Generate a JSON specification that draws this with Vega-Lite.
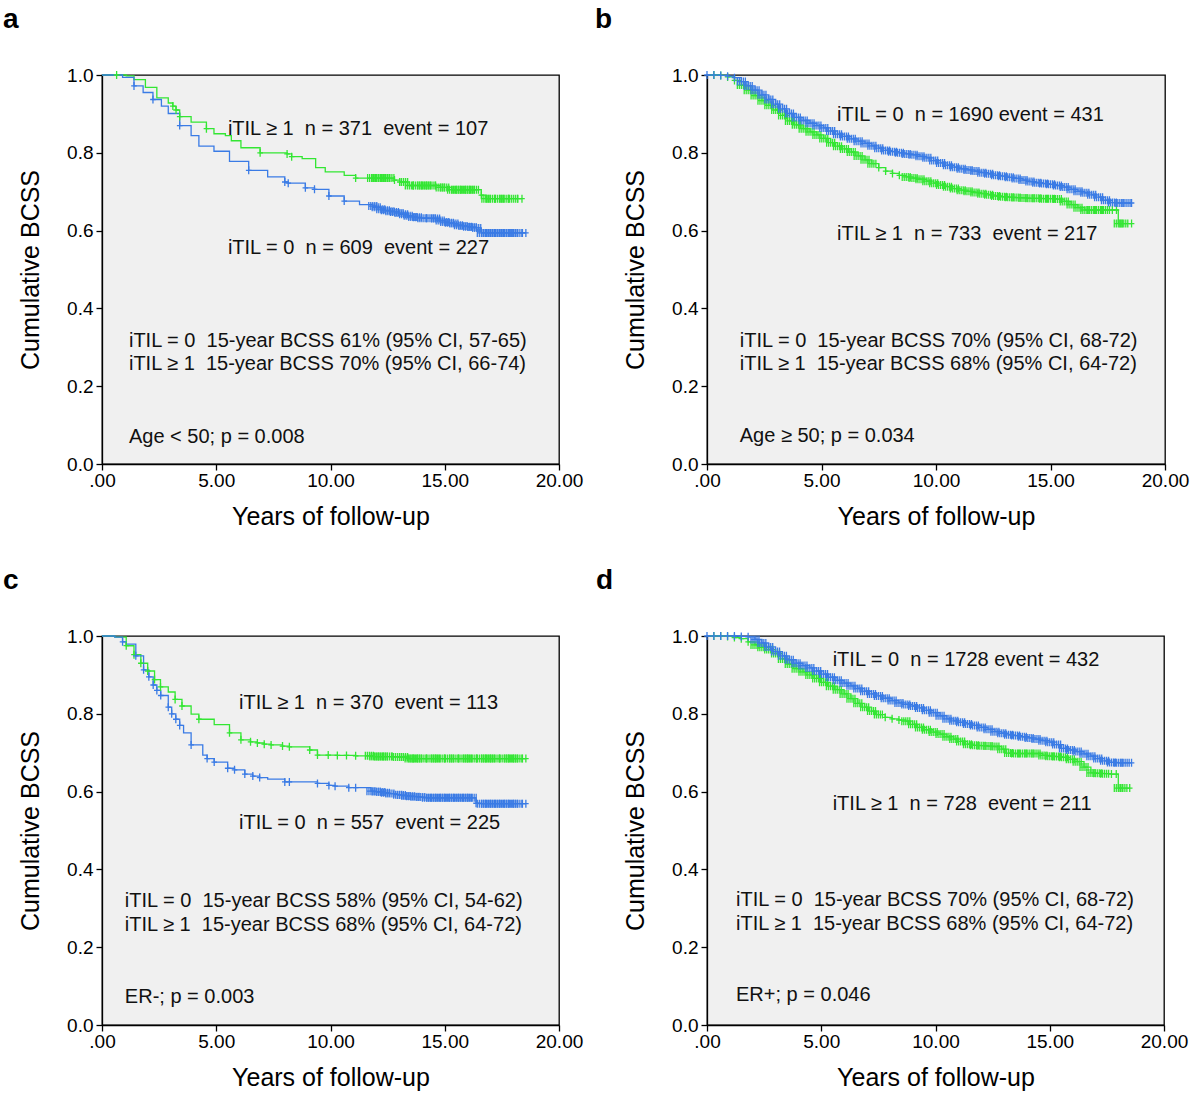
{
"$schema":"https://vega.github.io/schema/vega-lite/v6.json",
"background":"white",
"padding":{"left":2,"top":5,"right":0,"bottom":0},
"columns":2,
"spacing":{"row":36,"column":10},
"datasets":{
"a":[
{"g":1,"t":0,"s":1,"c":0},{"g":1,"t":0.64,"s":1,"c":1},{"g":1,"t":1.06,"s":0.998,"c":0},{"g":1,"t":1.4,"s":0.988,"c":0},{"g":1,"t":1.9,"s":0.968,"c":0},{"g":1,"t":2.4,"s":0.941,"c":0},{"g":1,"t":2.9,"s":0.928,"c":0},{"g":1,"t":3.1,"s":0.92,"c":1},{"g":1,"t":3.24,"s":0.91,"c":1},{"g":1,"t":3.4,"s":0.893,"c":1},{"g":1,"t":3.9,"s":0.879,"c":0},{"g":1,"t":4.57,"s":0.862,"c":1},{"g":1,"t":4.9,"s":0.849,"c":0},{"g":1,"t":5.4,"s":0.844,"c":0},{"g":1,"t":5.66,"s":0.831,"c":0},{"g":1,"t":6.08,"s":0.813,"c":0},{"g":1,"t":6.92,"s":0.8,"c":1},{"g":1,"t":8.1,"s":0.797,"c":1},{"g":1,"t":8.3,"s":0.79,"c":1},{"g":1,"t":8.76,"s":0.785,"c":0},{"g":1,"t":9.35,"s":0.762,"c":0},{"g":1,"t":9.77,"s":0.751,"c":0},{"g":1,"t":10.6,"s":0.742,"c":0},{"g":1,"t":11.1,"s":0.735,"c":1},{"g":1,"t":11.8,"s":0.735,"c":2},{"g":1,"t":12.0,"s":0.735,"c":2},{"g":1,"t":12.2,"s":0.735,"c":2},{"g":1,"t":12.4,"s":0.735,"c":2},{"g":1,"t":12.6,"s":0.735,"c":2},{"g":1,"t":12.8,"s":0.73,"c":1},{"g":1,"t":13.03,"s":0.725,"c":1},{"g":1,"t":13.2,"s":0.725,"c":2},{"g":1,"t":13.45,"s":0.716,"c":2},{"g":1,"t":13.6,"s":0.716,"c":1},{"g":1,"t":13.8,"s":0.716,"c":2},{"g":1,"t":14.0,"s":0.716,"c":2},{"g":1,"t":14.2,"s":0.716,"c":2},{"g":1,"t":14.4,"s":0.716,"c":2},{"g":1,"t":14.6,"s":0.716,"c":1},{"g":1,"t":14.8,"s":0.711,"c":2},{"g":1,"t":15.0,"s":0.711,"c":2},{"g":1,"t":15.3,"s":0.705,"c":2},{"g":1,"t":15.5,"s":0.705,"c":2},{"g":1,"t":15.7,"s":0.705,"c":2},{"g":1,"t":15.9,"s":0.705,"c":2},{"g":1,"t":16.1,"s":0.705,"c":2},{"g":1,"t":16.3,"s":0.705,"c":2},{"g":1,"t":16.6,"s":0.691,"c":1},{"g":1,"t":16.8,"s":0.682,"c":2},{"g":1,"t":17.0,"s":0.682,"c":2},{"g":1,"t":17.2,"s":0.682,"c":1},{"g":1,"t":17.4,"s":0.682,"c":2},{"g":1,"t":17.6,"s":0.682,"c":2},{"g":1,"t":17.8,"s":0.682,"c":1},{"g":1,"t":18.0,"s":0.682,"c":2},{"g":1,"t":18.2,"s":0.682,"c":1},{"g":1,"t":18.38,"s":0.682,"c":1},
{"g":0,"t":0,"s":1,"c":0},{"g":0,"t":0.9,"s":0.994,"c":0},{"g":0,"t":1.4,"s":0.972,"c":1},{"g":0,"t":1.8,"s":0.955,"c":0},{"g":0,"t":2.23,"s":0.937,"c":1},{"g":0,"t":2.6,"s":0.92,"c":0},{"g":0,"t":2.9,"s":0.901,"c":0},{"g":0,"t":3.4,"s":0.87,"c":1},{"g":0,"t":3.9,"s":0.844,"c":0},{"g":0,"t":4.24,"s":0.817,"c":0},{"g":0,"t":4.9,"s":0.804,"c":0},{"g":0,"t":5.58,"s":0.778,"c":0},{"g":0,"t":6.42,"s":0.755,"c":1},{"g":0,"t":7.25,"s":0.738,"c":0},{"g":0,"t":8.0,"s":0.725,"c":1},{"g":0,"t":8.15,"s":0.722,"c":1},{"g":0,"t":8.9,"s":0.71,"c":1},{"g":0,"t":9.3,"s":0.706,"c":1},{"g":0,"t":9.93,"s":0.689,"c":1},{"g":0,"t":10.6,"s":0.676,"c":1},{"g":0,"t":11.27,"s":0.667,"c":0},{"g":0,"t":11.85,"s":0.663,"c":2},{"g":0,"t":12.0,"s":0.66,"c":2},{"g":0,"t":12.2,"s":0.655,"c":2},{"g":0,"t":12.4,"s":0.652,"c":2},{"g":0,"t":12.6,"s":0.65,"c":2},{"g":0,"t":12.8,"s":0.648,"c":2},{"g":0,"t":13.0,"s":0.645,"c":2},{"g":0,"t":13.2,"s":0.642,"c":2},{"g":0,"t":13.4,"s":0.638,"c":2},{"g":0,"t":13.6,"s":0.635,"c":2},{"g":0,"t":13.8,"s":0.634,"c":2},{"g":0,"t":14.0,"s":0.632,"c":2},{"g":0,"t":14.2,"s":0.632,"c":1},{"g":0,"t":14.4,"s":0.632,"c":2},{"g":0,"t":14.6,"s":0.631,"c":2},{"g":0,"t":14.8,"s":0.626,"c":2},{"g":0,"t":15.0,"s":0.622,"c":2},{"g":0,"t":15.2,"s":0.62,"c":2},{"g":0,"t":15.4,"s":0.618,"c":2},{"g":0,"t":15.6,"s":0.614,"c":2},{"g":0,"t":15.8,"s":0.612,"c":2},{"g":0,"t":16.0,"s":0.61,"c":2},{"g":0,"t":16.2,"s":0.609,"c":2},{"g":0,"t":16.4,"s":0.607,"c":2},{"g":0,"t":16.6,"s":0.594,"c":2},{"g":0,"t":16.8,"s":0.594,"c":2},{"g":0,"t":17.0,"s":0.594,"c":2},{"g":0,"t":17.2,"s":0.594,"c":2},{"g":0,"t":17.4,"s":0.594,"c":2},{"g":0,"t":17.6,"s":0.594,"c":2},{"g":0,"t":17.8,"s":0.594,"c":2},{"g":0,"t":18.0,"s":0.594,"c":2},{"g":0,"t":18.2,"s":0.594,"c":2},{"g":0,"t":18.4,"s":0.594,"c":1},{"g":0,"t":18.55,"s":0.594,"c":1}
],
"b":[
{"g":1,"t":0,"s":1,"c":0},{"g":1,"t":0.3,"s":1,"c":1},{"g":1,"t":0.6,"s":0.999,"c":1},{"g":1,"t":0.9,"s":0.995,"c":1},{"g":1,"t":1.2,"s":0.986,"c":1},{"g":1,"t":1.5,"s":0.974,"c":2},{"g":1,"t":1.8,"s":0.961,"c":2},{"g":1,"t":2.1,"s":0.947,"c":2},{"g":1,"t":2.4,"s":0.934,"c":2},{"g":1,"t":2.7,"s":0.922,"c":2},{"g":1,"t":3.0,"s":0.91,"c":2},{"g":1,"t":3.3,"s":0.896,"c":2},{"g":1,"t":3.6,"s":0.882,"c":2},{"g":1,"t":3.9,"s":0.872,"c":2},{"g":1,"t":4.2,"s":0.862,"c":2},{"g":1,"t":4.5,"s":0.854,"c":2},{"g":1,"t":4.8,"s":0.846,"c":2},{"g":1,"t":5.1,"s":0.837,"c":2},{"g":1,"t":5.4,"s":0.826,"c":2},{"g":1,"t":5.7,"s":0.817,"c":2},{"g":1,"t":6.0,"s":0.81,"c":2},{"g":1,"t":6.3,"s":0.802,"c":2},{"g":1,"t":6.6,"s":0.792,"c":2},{"g":1,"t":6.9,"s":0.782,"c":2},{"g":1,"t":7.2,"s":0.772,"c":2},{"g":1,"t":7.5,"s":0.762,"c":1},{"g":1,"t":7.8,"s":0.753,"c":1},{"g":1,"t":8.1,"s":0.747,"c":1},{"g":1,"t":8.4,"s":0.742,"c":1},{"g":1,"t":8.7,"s":0.738,"c":2},{"g":1,"t":9.0,"s":0.735,"c":2},{"g":1,"t":9.3,"s":0.732,"c":2},{"g":1,"t":9.6,"s":0.727,"c":2},{"g":1,"t":9.9,"s":0.722,"c":2},{"g":1,"t":10.2,"s":0.717,"c":2},{"g":1,"t":10.5,"s":0.713,"c":2},{"g":1,"t":10.8,"s":0.708,"c":2},{"g":1,"t":11.1,"s":0.704,"c":2},{"g":1,"t":11.4,"s":0.701,"c":2},{"g":1,"t":11.7,"s":0.698,"c":2},{"g":1,"t":12.0,"s":0.695,"c":2},{"g":1,"t":12.3,"s":0.692,"c":2},{"g":1,"t":12.6,"s":0.689,"c":2},{"g":1,"t":12.9,"s":0.687,"c":2},{"g":1,"t":13.2,"s":0.686,"c":2},{"g":1,"t":13.5,"s":0.685,"c":2},{"g":1,"t":13.8,"s":0.684,"c":2},{"g":1,"t":14.1,"s":0.683,"c":2},{"g":1,"t":14.4,"s":0.683,"c":2},{"g":1,"t":14.7,"s":0.682,"c":2},{"g":1,"t":15.0,"s":0.682,"c":2},{"g":1,"t":15.3,"s":0.681,"c":2},{"g":1,"t":15.6,"s":0.675,"c":2},{"g":1,"t":15.9,"s":0.667,"c":2},{"g":1,"t":16.2,"s":0.659,"c":2},{"g":1,"t":16.5,"s":0.653,"c":2},{"g":1,"t":16.8,"s":0.653,"c":2},{"g":1,"t":17.1,"s":0.653,"c":2},{"g":1,"t":17.4,"s":0.653,"c":2},{"g":1,"t":17.7,"s":0.653,"c":1},{"g":1,"t":17.88,"s":0.653,"c":1},{"g":1,"t":17.96,"s":0.618,"c":2},{"g":1,"t":18.2,"s":0.618,"c":2},{"g":1,"t":18.54,"s":0.618,"c":1},
{"g":0,"t":0,"s":1,"c":1},{"g":0,"t":0.3,"s":1,"c":1},{"g":0,"t":0.6,"s":0.999,"c":1},{"g":0,"t":0.9,"s":0.997,"c":1},{"g":0,"t":1.2,"s":0.993,"c":1},{"g":0,"t":1.5,"s":0.983,"c":2},{"g":0,"t":1.8,"s":0.972,"c":2},{"g":0,"t":2.1,"s":0.961,"c":2},{"g":0,"t":2.4,"s":0.949,"c":2},{"g":0,"t":2.7,"s":0.937,"c":2},{"g":0,"t":3.0,"s":0.925,"c":2},{"g":0,"t":3.3,"s":0.913,"c":2},{"g":0,"t":3.6,"s":0.901,"c":2},{"g":0,"t":3.9,"s":0.891,"c":2},{"g":0,"t":4.2,"s":0.883,"c":2},{"g":0,"t":4.5,"s":0.876,"c":2},{"g":0,"t":4.8,"s":0.87,"c":2},{"g":0,"t":5.1,"s":0.864,"c":2},{"g":0,"t":5.4,"s":0.856,"c":2},{"g":0,"t":5.7,"s":0.848,"c":2},{"g":0,"t":6.0,"s":0.842,"c":2},{"g":0,"t":6.3,"s":0.836,"c":2},{"g":0,"t":6.6,"s":0.83,"c":2},{"g":0,"t":6.9,"s":0.824,"c":2},{"g":0,"t":7.2,"s":0.818,"c":2},{"g":0,"t":7.5,"s":0.812,"c":2},{"g":0,"t":7.8,"s":0.806,"c":2},{"g":0,"t":8.1,"s":0.803,"c":2},{"g":0,"t":8.4,"s":0.8,"c":2},{"g":0,"t":8.7,"s":0.797,"c":2},{"g":0,"t":9.0,"s":0.795,"c":2},{"g":0,"t":9.3,"s":0.791,"c":2},{"g":0,"t":9.6,"s":0.787,"c":2},{"g":0,"t":9.9,"s":0.78,"c":2},{"g":0,"t":10.2,"s":0.774,"c":2},{"g":0,"t":10.5,"s":0.768,"c":2},{"g":0,"t":10.8,"s":0.763,"c":2},{"g":0,"t":11.1,"s":0.759,"c":2},{"g":0,"t":11.4,"s":0.756,"c":2},{"g":0,"t":11.7,"s":0.753,"c":2},{"g":0,"t":12.0,"s":0.749,"c":2},{"g":0,"t":12.3,"s":0.746,"c":2},{"g":0,"t":12.6,"s":0.742,"c":2},{"g":0,"t":12.9,"s":0.74,"c":2},{"g":0,"t":13.2,"s":0.737,"c":2},{"g":0,"t":13.5,"s":0.734,"c":2},{"g":0,"t":13.8,"s":0.73,"c":2},{"g":0,"t":14.1,"s":0.726,"c":2},{"g":0,"t":14.4,"s":0.723,"c":2},{"g":0,"t":14.7,"s":0.721,"c":2},{"g":0,"t":15.0,"s":0.719,"c":2},{"g":0,"t":15.3,"s":0.716,"c":2},{"g":0,"t":15.6,"s":0.712,"c":2},{"g":0,"t":15.9,"s":0.706,"c":2},{"g":0,"t":16.2,"s":0.701,"c":2},{"g":0,"t":16.5,"s":0.697,"c":2},{"g":0,"t":16.8,"s":0.692,"c":2},{"g":0,"t":17.1,"s":0.686,"c":2},{"g":0,"t":17.4,"s":0.678,"c":2},{"g":0,"t":17.7,"s":0.672,"c":2},{"g":0,"t":18.0,"s":0.671,"c":2},{"g":0,"t":18.3,"s":0.671,"c":2},{"g":0,"t":18.54,"s":0.671,"c":1}
],
"c":[
{"g":1,"t":0,"s":1,"c":0},{"g":1,"t":0.56,"s":0.997,"c":0},{"g":1,"t":1.06,"s":0.975,"c":1},{"g":1,"t":1.4,"s":0.952,"c":1},{"g":1,"t":1.7,"s":0.93,"c":1},{"g":1,"t":2.0,"s":0.91,"c":1},{"g":1,"t":2.3,"s":0.888,"c":1},{"g":1,"t":2.56,"s":0.869,"c":1},{"g":1,"t":2.9,"s":0.856,"c":0},{"g":1,"t":3.2,"s":0.837,"c":1},{"g":1,"t":3.5,"s":0.82,"c":1},{"g":1,"t":3.9,"s":0.799,"c":0},{"g":1,"t":4.24,"s":0.786,"c":1},{"g":1,"t":4.91,"s":0.772,"c":0},{"g":1,"t":5.58,"s":0.751,"c":1},{"g":1,"t":6.08,"s":0.733,"c":1},{"g":1,"t":6.5,"s":0.728,"c":1},{"g":1,"t":6.8,"s":0.725,"c":1},{"g":1,"t":7.1,"s":0.722,"c":1},{"g":1,"t":7.4,"s":0.72,"c":1},{"g":1,"t":7.9,"s":0.717,"c":1},{"g":1,"t":8.2,"s":0.715,"c":1},{"g":1,"t":9.09,"s":0.707,"c":1},{"g":1,"t":9.43,"s":0.694,"c":1},{"g":1,"t":9.9,"s":0.694,"c":1},{"g":1,"t":10.3,"s":0.693,"c":1},{"g":1,"t":10.7,"s":0.693,"c":1},{"g":1,"t":11.1,"s":0.692,"c":1},{"g":1,"t":11.7,"s":0.692,"c":2},{"g":1,"t":11.9,"s":0.69,"c":2},{"g":1,"t":12.1,"s":0.69,"c":2},{"g":1,"t":12.3,"s":0.69,"c":2},{"g":1,"t":12.5,"s":0.69,"c":2},{"g":1,"t":12.7,"s":0.69,"c":1},{"g":1,"t":12.94,"s":0.689,"c":2},{"g":1,"t":13.2,"s":0.689,"c":2},{"g":1,"t":13.44,"s":0.685,"c":2},{"g":1,"t":13.6,"s":0.685,"c":2},{"g":1,"t":13.8,"s":0.685,"c":2},{"g":1,"t":14.0,"s":0.685,"c":2},{"g":1,"t":14.2,"s":0.685,"c":1},{"g":1,"t":14.4,"s":0.685,"c":2},{"g":1,"t":14.6,"s":0.685,"c":2},{"g":1,"t":14.8,"s":0.685,"c":2},{"g":1,"t":15.0,"s":0.685,"c":1},{"g":1,"t":15.2,"s":0.685,"c":2},{"g":1,"t":15.4,"s":0.685,"c":2},{"g":1,"t":15.6,"s":0.685,"c":1},{"g":1,"t":15.8,"s":0.685,"c":2},{"g":1,"t":16.0,"s":0.685,"c":2},{"g":1,"t":16.2,"s":0.685,"c":2},{"g":1,"t":16.4,"s":0.685,"c":1},{"g":1,"t":16.6,"s":0.685,"c":2},{"g":1,"t":16.8,"s":0.685,"c":2},{"g":1,"t":17.0,"s":0.685,"c":2},{"g":1,"t":17.2,"s":0.685,"c":2},{"g":1,"t":17.4,"s":0.685,"c":1},{"g":1,"t":17.6,"s":0.685,"c":2},{"g":1,"t":17.8,"s":0.685,"c":2},{"g":1,"t":18.0,"s":0.685,"c":2},{"g":1,"t":18.2,"s":0.685,"c":2},{"g":1,"t":18.4,"s":0.685,"c":1},{"g":1,"t":18.55,"s":0.685,"c":1},
{"g":0,"t":0,"s":1,"c":0},{"g":0,"t":0.56,"s":0.997,"c":0},{"g":0,"t":0.9,"s":0.985,"c":1},{"g":0,"t":1.06,"s":0.979,"c":0},{"g":0,"t":1.48,"s":0.949,"c":1},{"g":0,"t":1.82,"s":0.913,"c":1},{"g":0,"t":2.05,"s":0.895,"c":1},{"g":0,"t":2.24,"s":0.874,"c":1},{"g":0,"t":2.4,"s":0.86,"c":1},{"g":0,"t":2.57,"s":0.847,"c":1},{"g":0,"t":2.9,"s":0.817,"c":1},{"g":0,"t":3.05,"s":0.8,"c":1},{"g":0,"t":3.23,"s":0.786,"c":1},{"g":0,"t":3.4,"s":0.77,"c":1},{"g":0,"t":3.57,"s":0.751,"c":0},{"g":0,"t":3.9,"s":0.72,"c":1},{"g":0,"t":4.41,"s":0.694,"c":0},{"g":0,"t":4.6,"s":0.685,"c":1},{"g":0,"t":4.91,"s":0.676,"c":1},{"g":0,"t":5.5,"s":0.66,"c":1},{"g":0,"t":5.8,"s":0.656,"c":1},{"g":0,"t":6.25,"s":0.645,"c":1},{"g":0,"t":6.6,"s":0.64,"c":1},{"g":0,"t":6.9,"s":0.636,"c":1},{"g":0,"t":7.25,"s":0.632,"c":0},{"g":0,"t":8.0,"s":0.625,"c":1},{"g":0,"t":8.2,"s":0.625,"c":1},{"g":0,"t":9.43,"s":0.621,"c":1},{"g":0,"t":9.93,"s":0.616,"c":1},{"g":0,"t":10.2,"s":0.614,"c":1},{"g":0,"t":10.8,"s":0.61,"c":1},{"g":0,"t":11.1,"s":0.61,"c":1},{"g":0,"t":11.77,"s":0.601,"c":2},{"g":0,"t":12.0,"s":0.6,"c":2},{"g":0,"t":12.2,"s":0.599,"c":2},{"g":0,"t":12.4,"s":0.597,"c":2},{"g":0,"t":12.6,"s":0.595,"c":2},{"g":0,"t":12.94,"s":0.592,"c":2},{"g":0,"t":13.1,"s":0.591,"c":2},{"g":0,"t":13.3,"s":0.589,"c":2},{"g":0,"t":13.5,"s":0.588,"c":2},{"g":0,"t":13.7,"s":0.587,"c":2},{"g":0,"t":13.95,"s":0.586,"c":2},{"g":0,"t":14.2,"s":0.584,"c":2},{"g":0,"t":14.4,"s":0.584,"c":2},{"g":0,"t":14.6,"s":0.584,"c":2},{"g":0,"t":14.8,"s":0.584,"c":2},{"g":0,"t":15.0,"s":0.584,"c":2},{"g":0,"t":15.2,"s":0.584,"c":2},{"g":0,"t":15.4,"s":0.584,"c":2},{"g":0,"t":15.6,"s":0.584,"c":2},{"g":0,"t":15.8,"s":0.584,"c":2},{"g":0,"t":16.0,"s":0.584,"c":2},{"g":0,"t":16.2,"s":0.584,"c":2},{"g":0,"t":16.37,"s":0.57,"c":1},{"g":0,"t":16.6,"s":0.569,"c":2},{"g":0,"t":16.8,"s":0.569,"c":2},{"g":0,"t":17.0,"s":0.569,"c":2},{"g":0,"t":17.2,"s":0.569,"c":2},{"g":0,"t":17.4,"s":0.569,"c":2},{"g":0,"t":17.6,"s":0.569,"c":2},{"g":0,"t":17.8,"s":0.569,"c":2},{"g":0,"t":18.0,"s":0.569,"c":2},{"g":0,"t":18.2,"s":0.569,"c":2},{"g":0,"t":18.4,"s":0.569,"c":1},{"g":0,"t":18.55,"s":0.569,"c":1}
],
"d":[
{"g":1,"t":0,"s":1,"c":0},{"g":1,"t":0.3,"s":1,"c":1},{"g":1,"t":0.6,"s":1,"c":1},{"g":1,"t":0.9,"s":0.999,"c":1},{"g":1,"t":1.2,"s":0.996,"c":1},{"g":1,"t":1.5,"s":0.993,"c":1},{"g":1,"t":1.8,"s":0.985,"c":1},{"g":1,"t":2.1,"s":0.977,"c":2},{"g":1,"t":2.4,"s":0.971,"c":2},{"g":1,"t":2.7,"s":0.965,"c":2},{"g":1,"t":3.0,"s":0.955,"c":2},{"g":1,"t":3.3,"s":0.941,"c":2},{"g":1,"t":3.6,"s":0.928,"c":2},{"g":1,"t":3.9,"s":0.916,"c":2},{"g":1,"t":4.2,"s":0.908,"c":2},{"g":1,"t":4.5,"s":0.9,"c":2},{"g":1,"t":4.8,"s":0.891,"c":2},{"g":1,"t":5.1,"s":0.881,"c":2},{"g":1,"t":5.4,"s":0.871,"c":2},{"g":1,"t":5.7,"s":0.862,"c":2},{"g":1,"t":6.0,"s":0.851,"c":2},{"g":1,"t":6.3,"s":0.839,"c":2},{"g":1,"t":6.6,"s":0.827,"c":2},{"g":1,"t":6.9,"s":0.817,"c":2},{"g":1,"t":7.2,"s":0.807,"c":2},{"g":1,"t":7.5,"s":0.798,"c":2},{"g":1,"t":7.8,"s":0.791,"c":1},{"g":1,"t":8.1,"s":0.787,"c":1},{"g":1,"t":8.4,"s":0.784,"c":1},{"g":1,"t":8.7,"s":0.781,"c":2},{"g":1,"t":9.0,"s":0.773,"c":2},{"g":1,"t":9.3,"s":0.765,"c":2},{"g":1,"t":9.6,"s":0.759,"c":2},{"g":1,"t":9.9,"s":0.753,"c":2},{"g":1,"t":10.2,"s":0.748,"c":2},{"g":1,"t":10.5,"s":0.741,"c":2},{"g":1,"t":10.8,"s":0.735,"c":2},{"g":1,"t":11.1,"s":0.729,"c":2},{"g":1,"t":11.4,"s":0.722,"c":2},{"g":1,"t":11.7,"s":0.719,"c":2},{"g":1,"t":12.0,"s":0.718,"c":2},{"g":1,"t":12.3,"s":0.717,"c":2},{"g":1,"t":12.6,"s":0.716,"c":2},{"g":1,"t":12.9,"s":0.709,"c":2},{"g":1,"t":13.2,"s":0.699,"c":2},{"g":1,"t":13.5,"s":0.698,"c":2},{"g":1,"t":13.8,"s":0.698,"c":2},{"g":1,"t":14.1,"s":0.698,"c":2},{"g":1,"t":14.4,"s":0.698,"c":2},{"g":1,"t":14.7,"s":0.693,"c":2},{"g":1,"t":15.0,"s":0.691,"c":2},{"g":1,"t":15.3,"s":0.69,"c":2},{"g":1,"t":15.6,"s":0.688,"c":2},{"g":1,"t":15.9,"s":0.683,"c":2},{"g":1,"t":16.2,"s":0.677,"c":2},{"g":1,"t":16.5,"s":0.663,"c":2},{"g":1,"t":16.8,"s":0.648,"c":2},{"g":1,"t":17.1,"s":0.647,"c":2},{"g":1,"t":17.4,"s":0.646,"c":2},{"g":1,"t":17.7,"s":0.645,"c":1},{"g":1,"t":17.91,"s":0.645,"c":1},{"g":1,"t":18.0,"s":0.609,"c":2},{"g":1,"t":18.2,"s":0.609,"c":2},{"g":1,"t":18.5,"s":0.609,"c":1},
{"g":0,"t":0,"s":1,"c":1},{"g":0,"t":0.3,"s":1,"c":1},{"g":0,"t":0.6,"s":1,"c":1},{"g":0,"t":0.9,"s":1,"c":1},{"g":0,"t":1.2,"s":1,"c":1},{"g":0,"t":1.5,"s":0.999,"c":1},{"g":0,"t":1.8,"s":0.998,"c":1},{"g":0,"t":2.1,"s":0.991,"c":2},{"g":0,"t":2.4,"s":0.982,"c":2},{"g":0,"t":2.7,"s":0.972,"c":2},{"g":0,"t":3.0,"s":0.96,"c":2},{"g":0,"t":3.3,"s":0.949,"c":2},{"g":0,"t":3.6,"s":0.939,"c":2},{"g":0,"t":3.9,"s":0.93,"c":2},{"g":0,"t":4.2,"s":0.924,"c":2},{"g":0,"t":4.5,"s":0.918,"c":2},{"g":0,"t":4.8,"s":0.91,"c":2},{"g":0,"t":5.1,"s":0.902,"c":2},{"g":0,"t":5.4,"s":0.894,"c":2},{"g":0,"t":5.7,"s":0.886,"c":2},{"g":0,"t":6.0,"s":0.879,"c":2},{"g":0,"t":6.3,"s":0.872,"c":2},{"g":0,"t":6.6,"s":0.865,"c":2},{"g":0,"t":6.9,"s":0.858,"c":2},{"g":0,"t":7.2,"s":0.851,"c":2},{"g":0,"t":7.5,"s":0.846,"c":2},{"g":0,"t":7.8,"s":0.84,"c":2},{"g":0,"t":8.1,"s":0.834,"c":2},{"g":0,"t":8.4,"s":0.828,"c":2},{"g":0,"t":8.7,"s":0.824,"c":2},{"g":0,"t":9.0,"s":0.82,"c":2},{"g":0,"t":9.3,"s":0.815,"c":2},{"g":0,"t":9.6,"s":0.809,"c":2},{"g":0,"t":9.9,"s":0.803,"c":2},{"g":0,"t":10.2,"s":0.795,"c":2},{"g":0,"t":10.5,"s":0.787,"c":2},{"g":0,"t":10.8,"s":0.782,"c":2},{"g":0,"t":11.1,"s":0.778,"c":2},{"g":0,"t":11.4,"s":0.774,"c":2},{"g":0,"t":11.7,"s":0.77,"c":2},{"g":0,"t":12.0,"s":0.765,"c":2},{"g":0,"t":12.3,"s":0.76,"c":2},{"g":0,"t":12.6,"s":0.754,"c":2},{"g":0,"t":12.9,"s":0.75,"c":2},{"g":0,"t":13.2,"s":0.746,"c":2},{"g":0,"t":13.5,"s":0.744,"c":2},{"g":0,"t":13.8,"s":0.741,"c":2},{"g":0,"t":14.1,"s":0.738,"c":2},{"g":0,"t":14.4,"s":0.735,"c":2},{"g":0,"t":14.7,"s":0.731,"c":2},{"g":0,"t":15.0,"s":0.727,"c":2},{"g":0,"t":15.3,"s":0.721,"c":2},{"g":0,"t":15.6,"s":0.711,"c":2},{"g":0,"t":15.9,"s":0.707,"c":2},{"g":0,"t":16.2,"s":0.703,"c":2},{"g":0,"t":16.5,"s":0.697,"c":2},{"g":0,"t":16.8,"s":0.691,"c":2},{"g":0,"t":17.1,"s":0.685,"c":2},{"g":0,"t":17.4,"s":0.679,"c":2},{"g":0,"t":17.7,"s":0.675,"c":2},{"g":0,"t":18.0,"s":0.674,"c":2},{"g":0,"t":18.3,"s":0.674,"c":2},{"g":0,"t":18.58,"s":0.674,"c":1}
],
"ta":[
{"t":5.51,"s":0.861,"label":"iTIL ≥ 1\u00a0 n = 371\u00a0 event = 107"},
{"t":5.51,"s":0.555,"label":"iTIL = 0\u00a0 n = 609\u00a0 event = 227"},
{"t":1.18,"s":0.315,"label":"iTIL = 0\u00a0 15-year BCSS 61% (95% CI, 57-65)"},
{"t":1.18,"s":0.256,"label":"iTIL ≥ 1\u00a0 15-year BCSS 70% (95% CI, 66-74)"},
{"t":1.18,"s":0.07,"label":"Age < 50; p = 0.008"}
],
"tb":[
{"t":5.68,"s":0.897,"label":"iTIL = 0\u00a0 n = 1690 event = 431"},
{"t":5.68,"s":0.592,"label":"iTIL ≥ 1\u00a0 n = 733\u00a0 event = 217"},
{"t":1.43,"s":0.316,"label":"iTIL = 0\u00a0 15-year BCSS 70% (95% CI, 68-72)"},
{"t":1.43,"s":0.256,"label":"iTIL ≥ 1\u00a0 15-year BCSS 68% (95% CI, 64-72)"},
{"t":1.43,"s":0.072,"label":"Age ≥ 50; p = 0.034"}
],
"tc":[
{"t":6.0,"s":0.827,"label":"iTIL ≥ 1\u00a0 n = 370\u00a0 event = 113"},
{"t":6.0,"s":0.519,"label":"iTIL = 0\u00a0 n = 557\u00a0 event = 225"},
{"t":1.0,"s":0.318,"label":"iTIL = 0\u00a0 15-year BCSS 58% (95% CI, 54-62)"},
{"t":1.0,"s":0.256,"label":"iTIL ≥ 1\u00a0 15-year BCSS 68% (95% CI, 64-72)"},
{"t":1.0,"s":0.073,"label":"ER-; p = 0.003"}
],
"td":[
{"t":5.5,"s":0.939,"label":"iTIL = 0\u00a0 n = 1728 event = 432"},
{"t":5.5,"s":0.567,"label":"iTIL ≥ 1\u00a0 n = 728\u00a0 event = 211"},
{"t":1.27,"s":0.321,"label":"iTIL = 0\u00a0 15-year BCSS 70% (95% CI, 68-72)"},
{"t":1.27,"s":0.26,"label":"iTIL ≥ 1\u00a0 15-year BCSS 68% (95% CI, 64-72)"},
{"t":1.27,"s":0.076,"label":"ER+; p = 0.046"}
]
},
"concat":[
{"width":457,"height":389,
 "title":{"text":"a","anchor":"start","frame":"group","dx":-99,"offset":32},
 "encoding":{
  "x":{"field":"t","type":"quantitative","scale":{"domain":[0,20],"nice":false},"axis":{"title":"Years of follow-up","values":[0,5,10,15,20],"labelExpr":"datum.value==0?'.00':format(datum.value,'.2f')"}},
  "y":{"field":"s","type":"quantitative","scale":{"domain":[0,1],"nice":false},"axis":{"title":"Cumulative BCSS","values":[0,0.2,0.4,0.6,0.8,1],"format":".1f"}}},
 "layer":[
  {"data":{"name":"a"},"mark":{"type":"line","interpolate":"step-after","strokeWidth":1.3},"encoding":{"color":{"field":"g","type":"nominal","scale":{"domain":[0,1],"range":["#3a7be5","#33e633"]},"legend":null}}},
  {"data":{"name":"a"},"transform":[{"filter":"datum.c>=1"}],"mark":{"type":"point","filled":false,"size":64,"strokeWidth":1.3,"opacity":1},"encoding":{"color":{"field":"g","type":"nominal","scale":{"domain":[0,1],"range":["#3a7be5","#33e633"]},"legend":null},"shape":{"field":"c","type":"nominal","scale":{"domain":[1,2],"range":["M0,-1V1M-0.7,0H0.7","M-1,-1V1M-0.5,-1V1M0,-1V1M0.5,-1V1M1,-1V1M-1,0H1"]},"legend":null}}},
  {"data":{"name":"ta"},"mark":{"type":"text","align":"left","baseline":"middle","fontSize":20,"color":"#111"},"encoding":{"text":{"field":"label"}}}
 ]},
{"width":458,"height":389,
 "title":{"text":"b","anchor":"start","frame":"group","dx":-112,"offset":32},
 "encoding":{
  "x":{"field":"t","type":"quantitative","scale":{"domain":[0,20],"nice":false},"axis":{"title":"Years of follow-up","values":[0,5,10,15,20],"labelExpr":"datum.value==0?'.00':format(datum.value,'.2f')"}},
  "y":{"field":"s","type":"quantitative","scale":{"domain":[0,1],"nice":false},"axis":{"title":"Cumulative BCSS","values":[0,0.2,0.4,0.6,0.8,1],"format":".1f"}}},
 "layer":[
  {"data":{"name":"b"},"mark":{"type":"line","interpolate":"step-after","strokeWidth":1.3},"encoding":{"color":{"field":"g","type":"nominal","scale":{"domain":[0,1],"range":["#3a7be5","#33e633"]},"legend":null}}},
  {"data":{"name":"b"},"transform":[{"filter":"datum.c>=1"}],"mark":{"type":"point","filled":false,"size":64,"strokeWidth":1.3,"opacity":1},"encoding":{"color":{"field":"g","type":"nominal","scale":{"domain":[0,1],"range":["#3a7be5","#33e633"]},"legend":null},"shape":{"field":"c","type":"nominal","scale":{"domain":[1,2],"range":["M0,-1V1M-0.7,0H0.7","M-1,-1V1M-0.5,-1V1M0,-1V1M0.5,-1V1M1,-1V1M-1,0H1"]},"legend":null}}},
  {"data":{"name":"tb"},"mark":{"type":"text","align":"left","baseline":"middle","fontSize":20,"color":"#111"},"encoding":{"text":{"field":"label"}}}
 ]},
{"width":457,"height":389,
 "title":{"text":"c","anchor":"start","frame":"group","dx":-99,"offset":32},
 "encoding":{
  "x":{"field":"t","type":"quantitative","scale":{"domain":[0,20],"nice":false},"axis":{"title":"Years of follow-up","values":[0,5,10,15,20],"labelExpr":"datum.value==0?'.00':format(datum.value,'.2f')"}},
  "y":{"field":"s","type":"quantitative","scale":{"domain":[0,1],"nice":false},"axis":{"title":"Cumulative BCSS","values":[0,0.2,0.4,0.6,0.8,1],"format":".1f"}}},
 "layer":[
  {"data":{"name":"c"},"mark":{"type":"line","interpolate":"step-after","strokeWidth":1.3},"encoding":{"color":{"field":"g","type":"nominal","scale":{"domain":[0,1],"range":["#3a7be5","#33e633"]},"legend":null}}},
  {"data":{"name":"c"},"transform":[{"filter":"datum.c>=1"}],"mark":{"type":"point","filled":false,"size":64,"strokeWidth":1.3,"opacity":1},"encoding":{"color":{"field":"g","type":"nominal","scale":{"domain":[0,1],"range":["#3a7be5","#33e633"]},"legend":null},"shape":{"field":"c","type":"nominal","scale":{"domain":[1,2],"range":["M0,-1V1M-0.7,0H0.7","M-1,-1V1M-0.5,-1V1M0,-1V1M0.5,-1V1M1,-1V1M-1,0H1"]},"legend":null}}},
  {"data":{"name":"tc"},"mark":{"type":"text","align":"left","baseline":"middle","fontSize":20,"color":"#111"},"encoding":{"text":{"field":"label"}}}
 ]},
{"width":457,"height":389,
 "title":{"text":"d","anchor":"start","frame":"group","dx":-111,"offset":32},
 "encoding":{
  "x":{"field":"t","type":"quantitative","scale":{"domain":[0,20],"nice":false},"axis":{"title":"Years of follow-up","values":[0,5,10,15,20],"labelExpr":"datum.value==0?'.00':format(datum.value,'.2f')"}},
  "y":{"field":"s","type":"quantitative","scale":{"domain":[0,1],"nice":false},"axis":{"title":"Cumulative BCSS","values":[0,0.2,0.4,0.6,0.8,1],"format":".1f"}}},
 "layer":[
  {"data":{"name":"d"},"mark":{"type":"line","interpolate":"step-after","strokeWidth":1.3},"encoding":{"color":{"field":"g","type":"nominal","scale":{"domain":[0,1],"range":["#3a7be5","#33e633"]},"legend":null}}},
  {"data":{"name":"d"},"transform":[{"filter":"datum.c>=1"}],"mark":{"type":"point","filled":false,"size":64,"strokeWidth":1.3,"opacity":1},"encoding":{"color":{"field":"g","type":"nominal","scale":{"domain":[0,1],"range":["#3a7be5","#33e633"]},"legend":null},"shape":{"field":"c","type":"nominal","scale":{"domain":[1,2],"range":["M0,-1V1M-0.7,0H0.7","M-1,-1V1M-0.5,-1V1M0,-1V1M0.5,-1V1M1,-1V1M-1,0H1"]},"legend":null}}},
  {"data":{"name":"td"},"mark":{"type":"text","align":"left","baseline":"middle","fontSize":20,"color":"#111"},"encoding":{"text":{"field":"label"}}}
 ]}
],
"config":{
 "font":"Liberation Sans",
 "view":{"stroke":"#000","strokeWidth":1.3,"fill":"#f0f0f0"},
 "title":{"fontSize":28,"fontWeight":"bold","color":"#000","font":"Liberation Sans"},
 "axis":{"grid":false,"domainColor":"#000","domainWidth":1.3,"tickColor":"#000","tickWidth":1.3,"tickSize":6,"labelColor":"#000","labelFontSize":19,"titleColor":"#000","titleFontSize":25,"titleFontWeight":"normal","labelOverlap":false},
 "axisX":{"labelPadding":1,"titlePadding":14,"labelFlush":false},
 "axisY":{"labelPadding":3,"titlePadding":23}
}
}
